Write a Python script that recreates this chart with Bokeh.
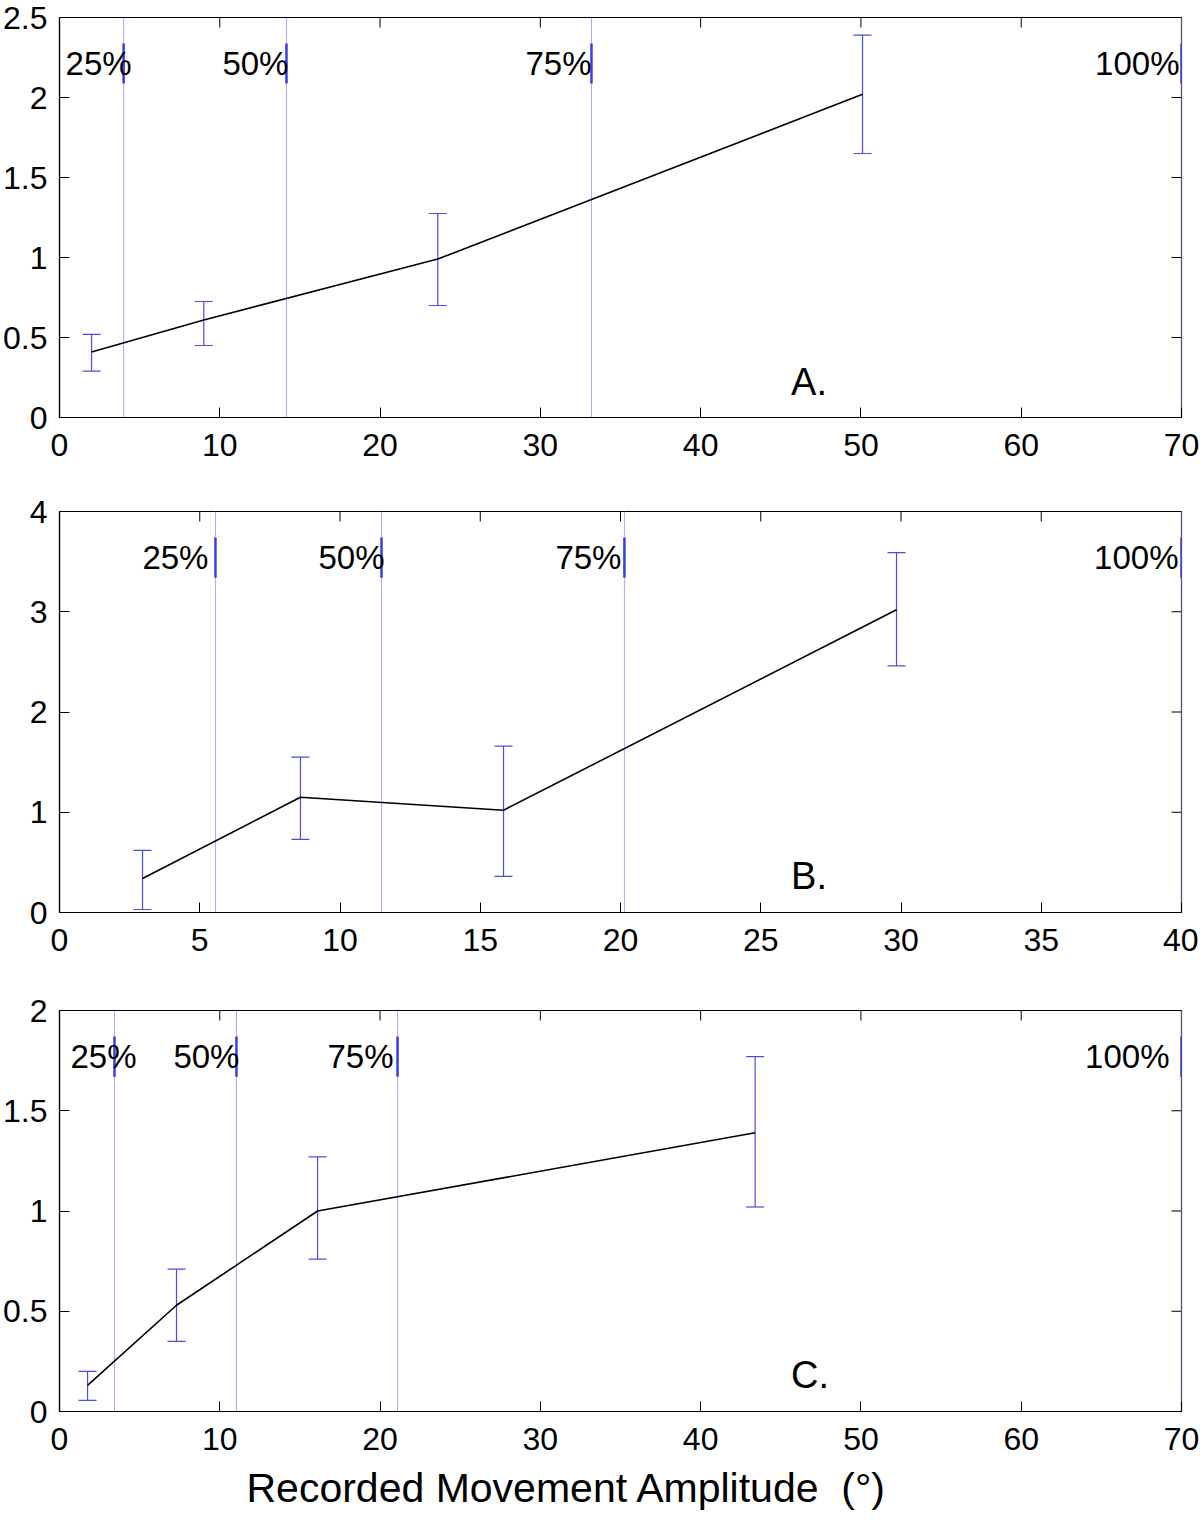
import math
from bokeh.plotting import figure
from bokeh.models import (ColumnDataSource, Whisker, TeeHead, FixedTicker,
                          CustomJSTickFormatter, Range1d, Label, Title)
from bokeh.layouts import column
from bokeh.embed import file_html
from bokeh.resources import INLINE
from bokeh.core.properties import value

FONT = "Liberation Sans"

# ---------------- data ----------------
pct_labels = ["25%", "50%", "75%", "100%"]

# Panel A
a_x = [2.0, 9.0, 23.6, 50.1]
a_y = [0.41, 0.61, 0.99, 2.02]
a_lo = [0.29, 0.45, 0.70, 1.65]
a_hi = [0.52, 0.725, 1.275, 2.39]
a_pct_x = [4.0, 14.16, 33.19, 70.0]
a_xticks = [0, 10, 20, 30, 40, 50, 60, 70]
a_yticks = [0, 0.5, 1, 1.5, 2, 2.5]

# Panel B
b_x = [2.96, 8.59, 15.83, 29.84]
b_y = [0.34, 1.15, 1.02, 3.02]
b_lo = [0.03, 0.73, 0.36, 2.46]
b_hi = [0.62, 1.55, 1.66, 3.59]
b_pct_x = [5.56, 11.48, 20.14, 40.0]
b_xticks = [0, 5, 10, 15, 20, 25, 30, 35, 40]
b_yticks = [0, 1, 2, 3, 4]

# Panel C
c_x = [1.75, 7.3, 16.1, 43.4]
c_y = [0.13, 0.53, 1.0, 1.39]
c_lo = [0.055, 0.35, 0.76, 1.02]
c_hi = [0.20, 0.71, 1.27, 1.77]
c_pct_x = [3.43, 11.04, 21.09, 70.0]
c_xticks = [0, 10, 20, 30, 40, 50, 60, 70]
c_yticks = [0, 0.5, 1, 1.5, 2]

x_title = "Recorded Movement Amplitude\u00a0\u00a0(\u00b0)"

# ---------------- style ----------------
TICK_FS = "32px"
LINE_BLUE = "#a9a9ff"
MARK_BLUE = "#3c3ce6"
ERR_BLUE = "#4c4ce0"
# pixel offset of each percentile label's right edge from its line
a_lab_dx = [8, 2, 0, -2]
b_lab_dx = [-7, 3, -3, -3]
c_lab_dx = [22, 3, -4, -12]


def make_panel(xs, ys, lo, hi, pct_x, lab_dx, xticks, yticks, letter,
               top_border, bottom_border, frame_h):
    xmax = xticks[-1]
    ymax = yticks[-1]
    p = figure(frame_width=1122, frame_height=frame_h,
               x_range=Range1d(0, xmax), y_range=Range1d(0, ymax),
               output_backend="svg", toolbar_location=None,
               min_border_left=58, min_border_right=18,
               min_border_top=top_border, min_border_bottom=bottom_border,
               background_fill_color="white", border_fill_color="white",
               outline_line_color="black", outline_line_width=1.2)
    p.xgrid.visible = False
    p.ygrid.visible = False

    fmt = CustomJSTickFormatter(code="return String(tick);")
    for ax, ticks in ((p.xaxis[0], xticks), (p.yaxis[0], yticks)):
        ax.ticker = FixedTicker(ticks=ticks)
        ax.formatter = fmt
        ax.major_tick_in = 10
        ax.major_tick_out = 0
        ax.minor_tick_in = 0
        ax.minor_tick_out = 0
        ax.axis_line_color = "black"
        ax.axis_line_width = 1.2
        ax.major_tick_line_color = "black"
        ax.major_label_text_font = FONT
        ax.major_label_text_font_size = TICK_FS
        ax.major_label_text_color = "black"
    p.xaxis[0].major_label_standoff = 16
    p.yaxis[0].major_label_standoff = 12

    # mirrored inside ticks on top and right (box style)
    p.ray(x=xticks, y=[ymax] * len(xticks), length=10, length_units="screen",
          angle=-math.pi / 2, line_color="black", line_width=1)
    p.ray(x=[xmax] * len(yticks), y=yticks, length=10, length_units="screen",
          angle=math.pi, line_color="black", line_width=1)

    # percentile lines
    seg_lo_frac, seg_hi_frac, lab_frac = 0.835, 0.935, 0.885
    n = len(pct_x)
    pct = ColumnDataSource(dict(x=pct_x, y0=[0] * n, y1=[ymax] * n,
                                m0=[ymax * seg_lo_frac] * n,
                                m1=[ymax * seg_hi_frac] * n,
                                ly=[ymax * lab_frac] * n,
                                dx=lab_dx, label=pct_labels))
    p.segment(x0="x", y0="y0", x1="x", y1="y1", source=pct, line_color=LINE_BLUE, line_width=1)
    p.segment(x0="x", y0="m0", x1="x", y1="m1", source=pct, line_color=MARK_BLUE, line_width=2.5)
    p.text(x="x", y="ly", text="label", source=pct, text_align="right",
           text_baseline="middle", text_font=value(FONT), text_font_size=value("33px"),
           text_color="black", x_offset="dx")

    # data
    src = ColumnDataSource(dict(x=xs, y=ys, lo=lo, hi=hi))
    p.line("x", "y", source=src, line_color="black", line_width=1.6)
    w = Whisker(base="x", upper="hi", lower="lo", source=src, dimension="height",
                line_color=ERR_BLUE, line_width=1.2,
                upper_head=TeeHead(size=18, line_color=ERR_BLUE, line_width=1.2),
                lower_head=TeeHead(size=18, line_color=ERR_BLUE, line_width=1.2))
    p.add_layout(w)

    p.add_layout(Label(x=xmax * 0.652, y=ymax * 0.09, text=letter, text_font=FONT,
                       text_font_size="38px", text_color="black",
                       text_baseline="middle"))
    return p


p1 = make_panel(a_x, a_y, a_lo, a_hi, a_pct_x, a_lab_dx, a_xticks, a_yticks, "A.", 17, 45, 400)
p2 = make_panel(b_x, b_y, b_lo, b_hi, b_pct_x, b_lab_dx, b_xticks, b_yticks, "B.", 49, 49, 401)
p3 = make_panel(c_x, c_y, c_lo, c_hi, c_pct_x, c_lab_dx, c_xticks, c_yticks, "C.", 49, 106, 401)
p3.add_layout(Title(text=x_title, align="left", offset=187, text_font=FONT,
                    text_font_size="41px", text_font_style="normal",
                    text_color="black", standoff=20), "below")

layout = column(p1, p2, p3, spacing=0)
open("out.html", "w").write(file_html(layout, INLINE))
